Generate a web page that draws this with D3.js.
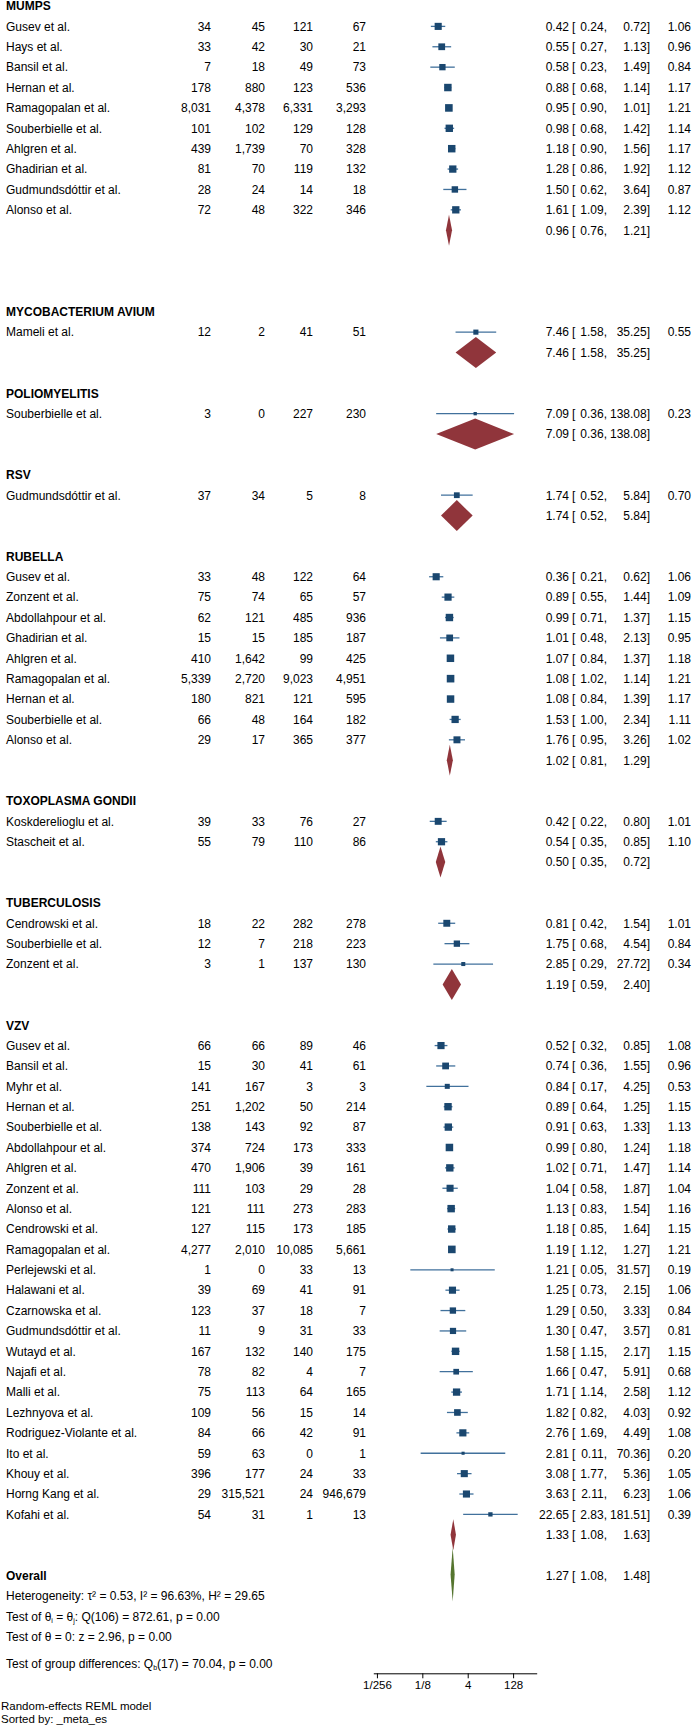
<!DOCTYPE html>
<html>
<head>
<meta charset="utf-8">
<script src="https://cdn.jsdelivr.net/npm/d3@7"></script>
<style>
  body { margin: 0; background: #fff; }
  text { font-family: "Liberation Sans", Arial, Helvetica, sans-serif; font-size: 12px; fill: #000; }
</style>
</head>
<body>
<div id="chart"></div>
<script>
// study, treated yes, treated no, control yes, control no, OR, lower, upper, weight (%)
const groupNames = ["MUMPS", "MYCOBACTERIUM AVIUM", "POLIOMYELITIS", "RSV",
  "RUBELLA", "TOXOPLASMA GONDII", "TUBERCULOSIS", "VZV"];

const mumps = [
  ["Gusev et al.", 34, 45, 121, 67, 0.42, 0.24, 0.72, 1.06],
  ["Hays et al.", 33, 42, 30, 21, 0.55, 0.27, 1.13, 0.96],
  ["Bansil et al.", 7, 18, 49, 73, 0.58, 0.23, 1.49, 0.84],
  ["Hernan et al.", 178, 880, 123, 536, 0.88, 0.68, 1.14, 1.17],
  ["Ramagopalan et al.", 8031, 4378, 6331, 3293, 0.95, 0.90, 1.01, 1.21],
  ["Souberbielle et al.", 101, 102, 129, 128, 0.98, 0.68, 1.42, 1.14],
  ["Ahlgren et al.", 439, 1739, 70, 328, 1.18, 0.90, 1.56, 1.17],
  ["Ghadirian et al.", 81, 70, 119, 132, 1.28, 0.86, 1.92, 1.12],
  ["Gudmundsdóttir et al.", 28, 24, 14, 18, 1.50, 0.62, 3.64, 0.87],
  ["Alonso et al.", 72, 48, 322, 346, 1.61, 1.09, 2.39, 1.12]
];
const mycobacterium = [
  ["Mameli et al.", 12, 2, 41, 51, 7.46, 1.58, 35.25, 0.55]
];
const polio = [
  ["Souberbielle et al.", 3, 0, 227, 230, 7.09, 0.36, 138.08, 0.23]
];
const rsv = [
  ["Gudmundsdóttir et al.", 37, 34, 5, 8, 1.74, 0.52, 5.84, 0.70]
];
const rubella = [
  ["Gusev et al.", 33, 48, 122, 64, 0.36, 0.21, 0.62, 1.06],
  ["Zonzent et al.", 75, 74, 65, 57, 0.89, 0.55, 1.44, 1.09],
  ["Abdollahpour et al.", 62, 121, 485, 936, 0.99, 0.71, 1.37, 1.15],
  ["Ghadirian et al.", 15, 15, 185, 187, 1.01, 0.48, 2.13, 0.95],
  ["Ahlgren et al.", 410, 1642, 99, 425, 1.07, 0.84, 1.37, 1.18],
  ["Ramagopalan et al.", 5339, 2720, 9023, 4951, 1.08, 1.02, 1.14, 1.21],
  ["Hernan et al.", 180, 821, 121, 595, 1.08, 0.84, 1.39, 1.17],
  ["Souberbielle et al.", 66, 48, 164, 182, 1.53, 1.00, 2.34, 1.11],
  ["Alonso et al.", 29, 17, 365, 377, 1.76, 0.95, 3.26, 1.02]
];
const toxoplasma = [
  ["Koskderelioglu et al.", 39, 33, 76, 27, 0.42, 0.22, 0.80, 1.01],
  ["Stascheit et al.", 55, 79, 110, 86, 0.54, 0.35, 0.85, 1.10]
];
const tuberculosis = [
  ["Cendrowski et al.", 18, 22, 282, 278, 0.81, 0.42, 1.54, 1.01],
  ["Souberbielle et al.", 12, 7, 218, 223, 1.75, 0.68, 4.54, 0.84],
  ["Zonzent et al.", 3, 1, 137, 130, 2.85, 0.29, 27.72, 0.34]
];
const vzv = [
  ["Gusev et al.", 66, 66, 89, 46, 0.52, 0.32, 0.85, 1.08],
  ["Bansil et al.", 15, 30, 41, 61, 0.74, 0.36, 1.55, 0.96],
  ["Myhr et al.", 141, 167, 3, 3, 0.84, 0.17, 4.25, 0.53],
  ["Hernan et al.", 251, 1202, 50, 214, 0.89, 0.64, 1.25, 1.15],
  ["Souberbielle et al.", 138, 143, 92, 87, 0.91, 0.63, 1.33, 1.13],
  ["Abdollahpour et al.", 374, 724, 173, 333, 0.99, 0.80, 1.24, 1.18],
  ["Ahlgren et al.", 470, 1906, 39, 161, 1.02, 0.71, 1.47, 1.14],
  ["Zonzent et al.", 111, 103, 29, 28, 1.04, 0.58, 1.87, 1.04],
  ["Alonso et al.", 121, 111, 273, 283, 1.13, 0.83, 1.54, 1.16],
  ["Cendrowski et al.", 127, 115, 173, 185, 1.18, 0.85, 1.64, 1.15],
  ["Ramagopalan et al.", 4277, 2010, 10085, 5661, 1.19, 1.12, 1.27, 1.21],
  ["Perlejewski et al.", 1, 0, 33, 13, 1.21, 0.05, 31.57, 0.19],
  ["Halawani et al.", 39, 69, 41, 91, 1.25, 0.73, 2.15, 1.06],
  ["Czarnowska et al.", 123, 37, 18, 7, 1.29, 0.50, 3.33, 0.84],
  ["Gudmundsdóttir et al.", 11, 9, 31, 33, 1.30, 0.47, 3.57, 0.81],
  ["Wutayd et al.", 167, 132, 140, 175, 1.58, 1.15, 2.17, 1.15],
  ["Najafi et al.", 78, 82, 4, 7, 1.66, 0.47, 5.91, 0.68],
  ["Malli et al.", 75, 113, 64, 165, 1.71, 1.14, 2.58, 1.12],
  ["Lezhnyova et al.", 109, 56, 15, 14, 1.82, 0.82, 4.03, 0.92],
  ["Rodriguez-Violante et al.", 84, 66, 42, 91, 2.76, 1.69, 4.49, 1.08],
  ["Ito et al.", 59, 63, 0, 1, 2.81, 0.11, 70.36, 0.20],
  ["Khouy et al.", 396, 177, 24, 33, 3.08, 1.77, 5.36, 1.05],
  ["Horng Kang et al.", 29, 315521, 24, 946679, 3.63, 2.11, 6.23, 1.06],
  ["Kofahi et al.", 54, 31, 1, 13, 22.65, 2.83, 181.51, 0.39]
];
const groupStudies = [mumps, mycobacterium, polio, rsv, rubella, toxoplasma, tuberculosis, vzv];

// group summaries: OR, lower, upper
const groupSummaries = [
  [0.96, 0.76, 1.21],
  [7.46, 1.58, 35.25],
  [7.09, 0.36, 138.08],
  [1.74, 0.52, 5.84],
  [1.02, 0.81, 1.29],
  [0.50, 0.35, 0.72],
  [1.19, 0.59, 2.40],
  [1.33, 1.08, 1.63]
];
const overall = [1.27, 1.08, 1.48];

const tickValues = [1 / 256, 1 / 8, 4, 128];
const tickLabels = ["1/256", "1/8", "4", "128"];

// layout
const width = 694, height = 1725;
const labelX = 6;
const colRight = [211, 265, 313, 366];
const esRight = 569, bracketX = 572, lowRight = 607, upRight = 650, wRight = 691;

const svg = d3.select("#chart").append("svg")
  .attr("width", width)
  .attr("height", height);

const x = d3.scaleLog().base(2)
  .domain([Math.pow(2, -8.4), Math.pow(2, 9.6)])
  .range([373.3, 536.7]);
const y = d3.scaleLinear().domain([0, 80]).range([6, 1636.7]);

const fmtN = d3.format(",");
const fmt2 = d3.format(".2f");

// build rows
const rows = [];
let r = 0;
groupNames.forEach((g, gi) => {
  rows.push({ type: "header", label: g, r: r++ });
  groupStudies[gi].forEach(s => rows.push({ type: "study", d: s, r: r++ }));
  rows.push({ type: "summary", d: groupSummaries[gi], r: r++ });
  r += gi === 0 ? 3 : 1;
});
const overallRow = r;

const g = svg.append("g");

// headers
g.selectAll(".hdr").data(rows.filter(d => d.type === "header")).enter()
  .append("text")
  .attr("x", labelX).attr("y", d => y(d.r)).attr("dy", "0.36em")
  .style("font-weight", "bold")
  .text(d => d.label);

const studies = rows.filter(d => d.type === "study");

// study labels and counts
g.selectAll(".lbl").data(studies).enter()
  .append("text")
  .attr("x", labelX).attr("y", d => y(d.r)).attr("dy", "0.36em")
  .text(d => d.d[0]);

colRight.forEach((cx, ci) => {
  g.selectAll(".c" + ci).data(studies).enter()
    .append("text")
    .attr("x", cx).attr("y", d => y(d.r)).attr("dy", "0.36em")
    .attr("text-anchor", "end")
    .text(d => fmtN(d.d[ci + 1]));
});

// CI text
function esText(sel, getES) {
  sel.append("text").attr("x", esRight).attr("y", d => y(d.r)).attr("dy", "0.36em")
    .attr("text-anchor", "end").text(d => fmt2(getES(d)[0]));
  sel.append("text").attr("x", bracketX).attr("y", d => y(d.r)).attr("dy", "0.36em")
    .text("[");
  sel.append("text").attr("x", lowRight).attr("y", d => y(d.r)).attr("dy", "0.36em")
    .attr("text-anchor", "end").text(d => fmt2(getES(d)[1]) + ",");
  sel.append("text").attr("x", upRight).attr("y", d => y(d.r)).attr("dy", "0.36em")
    .attr("text-anchor", "end").text(d => fmt2(getES(d)[2]) + "]");
}

const studyG = g.selectAll(".st").data(studies).enter().append("g");
esText(studyG, d => d.d.slice(5, 8));
studyG.append("text").attr("x", wRight).attr("y", d => y(d.r)).attr("dy", "0.36em")
  .attr("text-anchor", "end").text(d => fmt2(d.d[8]));

// CI lines and squares
studyG.append("line")
  .attr("x1", d => x(d.d[6])).attr("x2", d => x(d.d[7]))
  .attr("y1", d => y(d.r)).attr("y2", d => y(d.r))
  .attr("stroke", "#41719c").attr("stroke-width", 1.3);
studyG.append("rect")
  .each(function (d) {
    const s = 6.9 * Math.sqrt(d.d[8]);
    d3.select(this)
      .attr("x", x(d.d[5]) - s / 2).attr("y", y(d.r) - s / 2)
      .attr("width", s).attr("height", s);
  })
  .attr("fill", "#1a476f");

// group summary diamonds
function diamond(es, lo, hi, cy, h) {
  return `M${x(lo)},${cy} L${x(es)},${cy - h} L${x(hi)},${cy} L${x(es)},${cy + h} Z`;
}
const sums = rows.filter(d => d.type === "summary");
const sumG = g.selectAll(".sm").data(sums).enter().append("g");
sumG.append("path")
  .attr("d", d => diamond(d.d[0], d.d[1], d.d[2], y(d.r), 15.5))
  .attr("fill", "#90353b");
esText(sumG, d => d.d);

// overall
const ovG = g.selectAll(".ov").data([{ r: overallRow, d: overall }]).enter().append("g");
ovG.append("path")
  .attr("d", d => diamond(d.d[0], d.d[1], d.d[2], y(d.r) - 1, 27))
  .attr("fill", "#55752f");
ovG.append("text").attr("x", labelX).attr("y", d => y(d.r)).attr("dy", "0.36em")
  .style("font-weight", "bold").text("Overall");
esText(ovG, d => d.d);

// stats lines
g.append("text").attr("x", labelX).attr("y", y(overallRow + 1)).attr("dy", "0.36em")
  .text("Heterogeneity: \u03c4\u00b2 = 0.53, I\u00b2 = 96.63%, H\u00b2 = 29.65");

const tq = g.append("text").attr("x", labelX).attr("y", y(overallRow + 2)).attr("dy", "0.36em");
tq.append("tspan").text("Test of \u03b8");
tq.append("tspan").attr("baseline-shift", "-25%").style("font-size", "7px").text("i");
tq.append("tspan").text(" = \u03b8");
tq.append("tspan").attr("baseline-shift", "-25%").style("font-size", "7px").text("j");
tq.append("tspan").text(": Q(106) = 872.61, p = 0.00");

g.append("text").attr("x", labelX).attr("y", y(overallRow + 3)).attr("dy", "0.36em")
  .text("Test of \u03b8 = 0: z = 2.96, p = 0.00");

const tg = g.append("text").attr("x", labelX).attr("y", 1663.3).attr("dy", "0.36em");
tg.append("tspan").text("Test of group differences: Q");
tg.append("tspan").attr("baseline-shift", "-25%").style("font-size", "7px").text("b");
tg.append("tspan").text("(17) = 70.04, p = 0.00");

// axis
const axis = d3.axisBottom(x)
  .tickValues(tickValues)
  .tickFormat((d, i) => tickLabels[i])
  .tickSize(5)
  .tickSizeOuter(0);
const axG = svg.append("g").attr("transform", "translate(0,1673.3)").call(axis);
axG.select(".domain").attr("stroke", "#000");
axG.selectAll(".tick line").attr("stroke", "#000");
axG.selectAll(".tick text")
  .attr("y", 8)
  .style("font-family", "\"Liberation Sans\", Arial, Helvetica, sans-serif")
  .style("font-size", "11.5px");

// footnotes
svg.append("text").attr("x", 1).attr("y", 1706).attr("dy", "0.36em")
  .style("font-size", "11.5px").text("Random-effects REML model");
svg.append("text").attr("x", 1).attr("y", 1718.5).attr("dy", "0.36em")
  .style("font-size", "11.5px").text("Sorted by: _meta_es");
</script>
</body>
</html>
